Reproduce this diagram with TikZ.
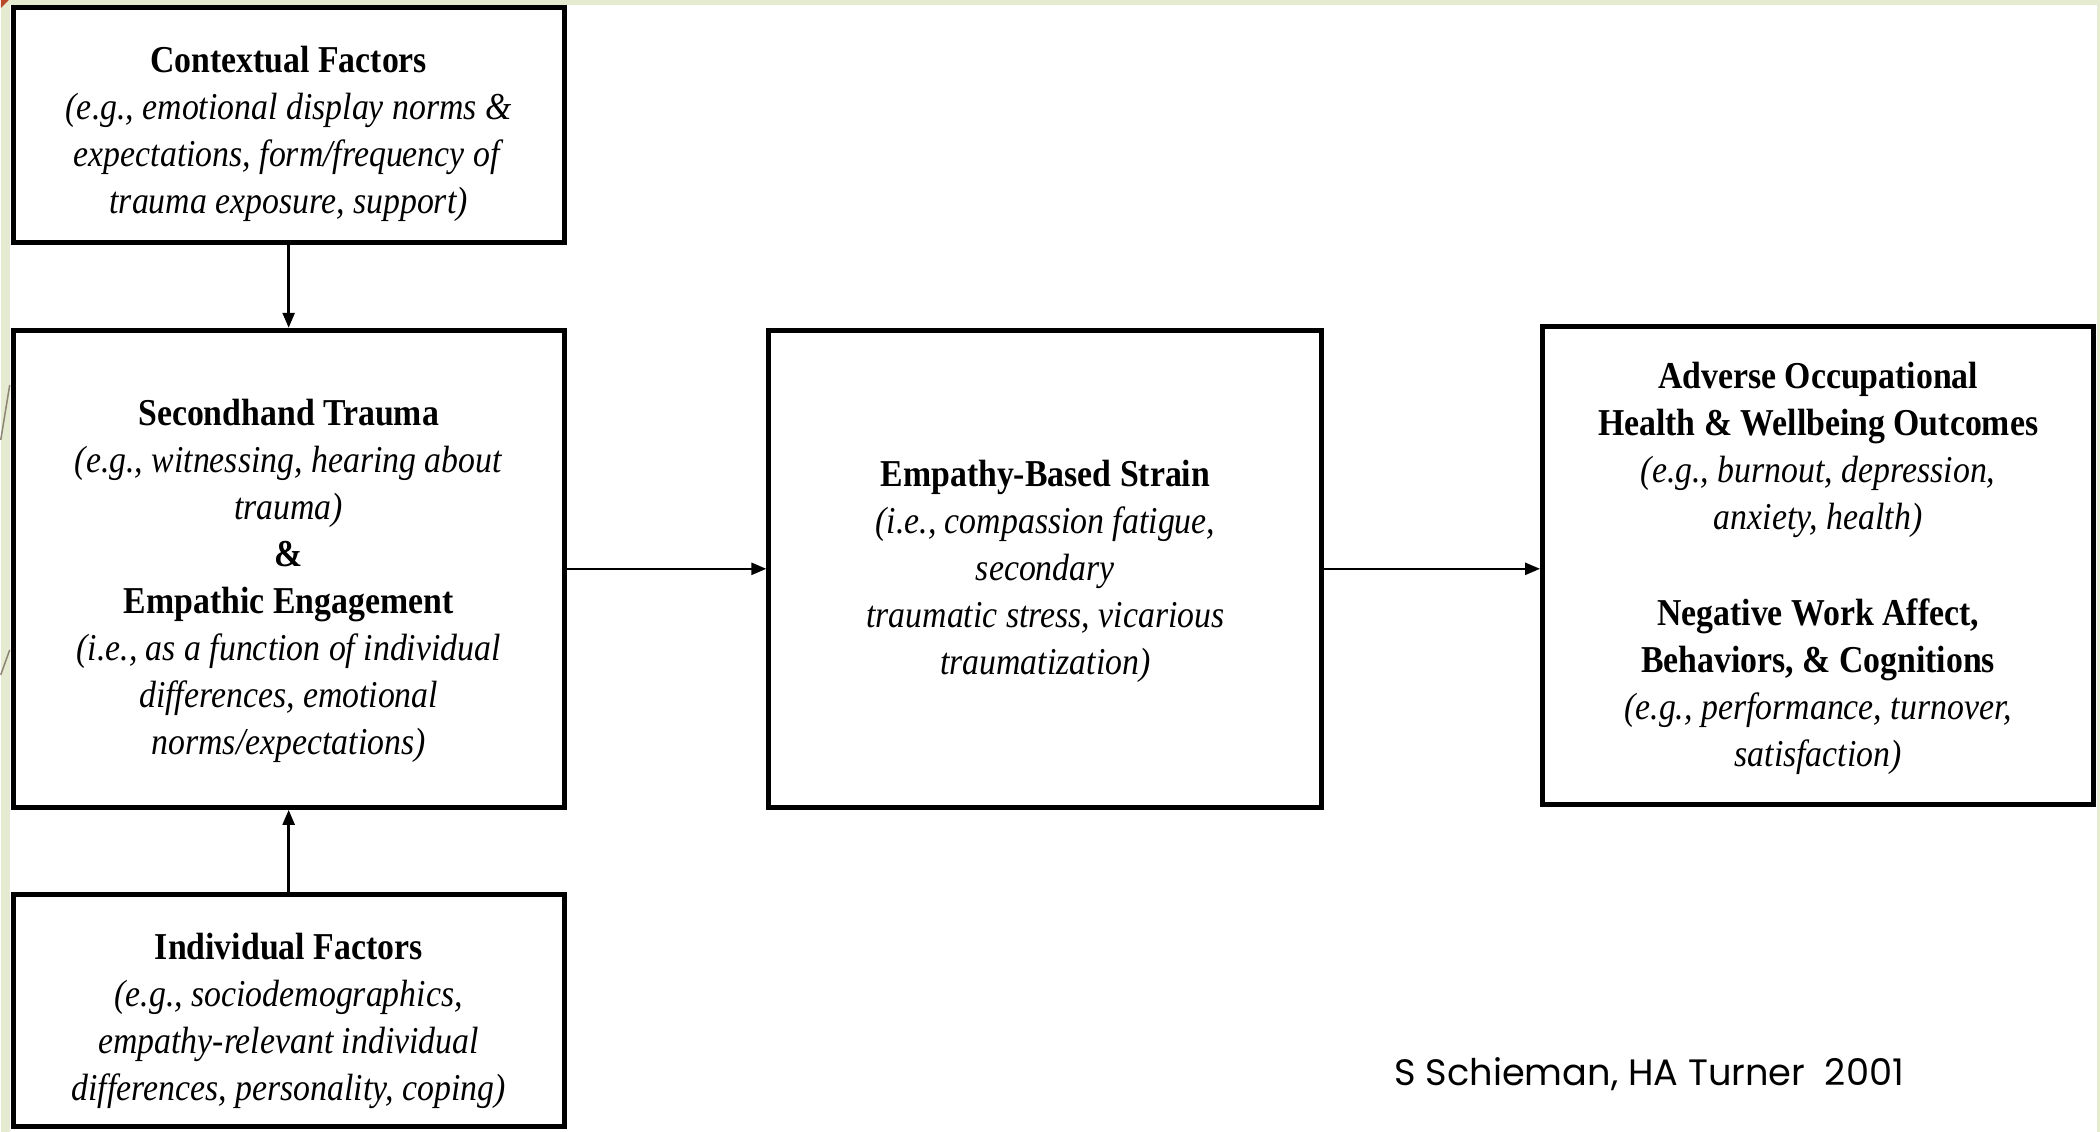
\documentclass[tikz,border=0pt]{standalone}
\usepackage{fontspec}
\setmainfont{Liberation Serif}[FakeStretch=0.89]
\newfontfamily\authfont{Poppins}
\usetikzlibrary{arrows.meta}
\definecolor{slidegreen}{HTML}{E5EBD1}
\definecolor{slideorange}{HTML}{B9472A}
\definecolor{slideline}{HTML}{8C8472}
\newcommand\toppad[1]{\rule{0pt}{#1}}
\tikzset{
  factor/.style={draw, line width=0.05cm, align=center, inner sep=0pt,
    minimum width=5.51cm, font=\fontsize{10.8}{13.35}\selectfont},
  link/.style={-{Triangle[length=0.15cm,width=0.12cm]}, line width=0.025cm},
}

\begin{document}
\begin{tikzpicture}[x=0.01cm, y=-0.01cm]
  % slide frame
  \fill[slidegreen] (0,0) rectangle (2100,1132);
  \fill[white] (9,5) rectangle (2097,1132);
  \fill[slideorange] (0,0) -- (8,0) -- (0,8) -- cycle;
  \draw[slideline, line width=0.015cm] (0,440) -- (9,385) (0,675) -- (9,650);
  \useasboundingbox (0,0) rectangle (2100,1132);

  \draw
    (288,125) node[factor, minimum height=2.35cm] (ctx)
      {\toppad{12.4pt}\textbf{Contextual Factors}\\
       \textit{(e.g., emotional display norms \&}\\
       \textit{expectations, form/frequency of}\\
       \textit{trauma exposure, support)}}
    (288,569) node[factor, minimum height=4.77cm] (trauma)
      {\toppad{14.4pt}\textbf{Secondhand Trauma}\\
       \textit{(e.g., witnessing, hearing about}\\
       \textit{trauma)}\\
       \textbf{\&}\\
       \textbf{Empathic Engagement}\\
       \textit{(i.e., as a function of individual}\\
       \textit{differences, emotional}\\
       \textit{norms/expectations)}}
    (288,1011) node[factor, minimum height=2.32cm] (indiv)
      {\toppad{13.5pt}\textbf{Individual Factors}\\
       \textit{(e.g., sociodemographics,}\\
       \textit{empathy-relevant individual}\\
       \textit{differences, personality, coping)}}
    (1045,569) node[factor, minimum width=5.53cm, minimum height=4.77cm] (strain)
      {\toppad{9pt}\textbf{Empathy-Based Strain}\\
       \textit{(i.e., compassion fatigue,}\\
       \textit{secondary}\\
       \textit{traumatic stress, vicarious}\\
       \textit{traumatization)}}
    (1818,566) node[factor, minimum height=4.78cm] (outcome)
      {\toppad{9pt}\textbf{Adverse Occupational}\\
       \textbf{Health \& Wellbeing Outcomes}\\
       \textit{(e.g., burnout, depression,}\\
       \textit{anxiety, health)}\\[14pt]
       \textbf{Negative Work Affect,}\\
       \textbf{Behaviors, \& Cognitions}\\
       \textit{(e.g., performance, turnover,}\\
       \textit{satisfaction)}};
  \node[font={\authfont\fontsize{10.45}{12}\selectfont}, anchor=base] (credit)
    at (1649,1086) {S Schieman, HA Turner~~2001};
  \begin{scope}[link]
    \draw (ctx) to (trauma);
    \draw (indiv) to (trauma);
    \draw (trauma) to (strain);
    \draw (strain.east) to (strain.east -| outcome.west);
  \end{scope}
\end{tikzpicture}
\end{document}
